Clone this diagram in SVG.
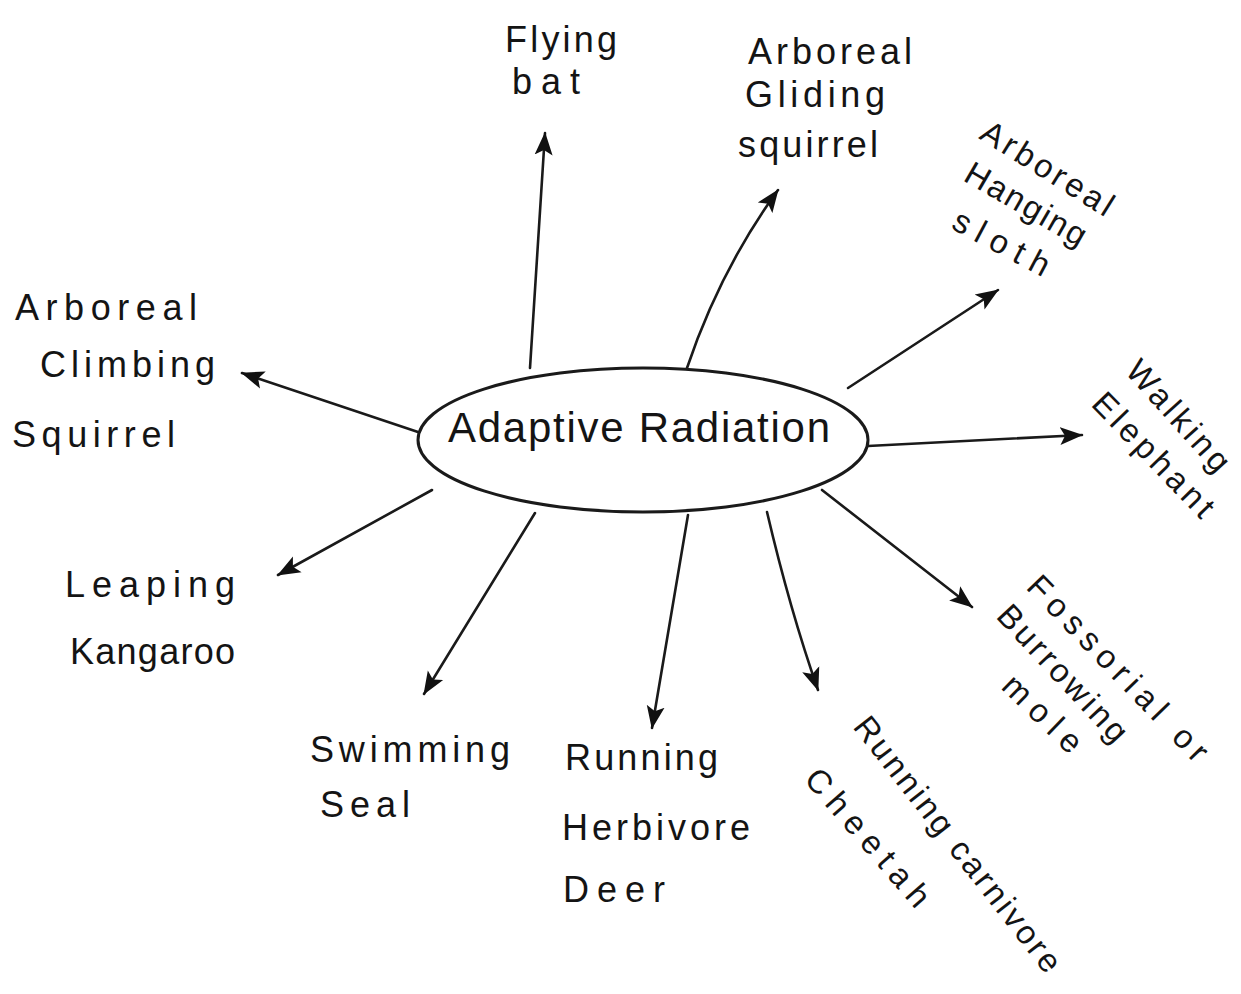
<svg xmlns="http://www.w3.org/2000/svg" width="1241" height="994" viewBox="0 0 1241 994">
  <style>
    .lbl { font-family: "Liberation Sans", "DejaVu Sans", sans-serif; font-size: 36px; fill: #141414; }
    .rot { font-size: 33px; }
    .title { font-family: "Liberation Sans", "DejaVu Sans", sans-serif; font-size: 42px; fill: #141414; }
    .edge { fill: none; stroke: #1a1a1a; stroke-width: 2.6; stroke-linecap: round; marker-end: url(#head); }
  </style>
  <defs>
    <marker id="head" markerUnits="userSpaceOnUse" markerWidth="24" markerHeight="20" viewBox="0 0 24 20" refX="22" refY="10" orient="auto">
      <path d="M0,1 L23,10 L0,19 L5,10 Z" fill="#111"/>
    </marker>
  </defs>
  <rect width="1241" height="994" fill="#ffffff"/>

  <!-- connectors radiating from the centre -->
  <g id="connectors">
    <path class="edge" d="M530,368 L545,133"/>
    <path class="edge" d="M687,368 Q720,270 778,190"/>
    <path class="edge" d="M848,388 L998,290"/>
    <path class="edge" d="M868,446 L1082,435"/>
    <path class="edge" d="M822,490 L972,607"/>
    <path class="edge" d="M767,512 Q790,610 818,690"/>
    <path class="edge" d="M688,515 L652,728"/>
    <path class="edge" d="M535,513 L424,694"/>
    <path class="edge" d="M432,490 L278,575"/>
    <path class="edge" d="M418,432 L242,373"/>
  </g>

  <!-- centre node -->
  <g id="node-center">
    <ellipse cx="643" cy="440" rx="225" ry="72" fill="#ffffff" stroke="#1a1a1a" stroke-width="3"/>
    <text class="title" x="448" y="442" textLength="382" lengthAdjust="spacing">Adaptive Radiation</text>
  </g>

  <g id="node-bat">
    <text class="lbl" x="505" y="52" textLength="112" lengthAdjust="spacing">Flying</text>
    <text class="lbl" x="512" y="94" textLength="68" lengthAdjust="spacing">bat</text>
  </g>

  <g id="node-gliding">
    <text class="lbl" x="748" y="64" textLength="164" lengthAdjust="spacing">Arboreal</text>
    <text class="lbl" x="745" y="107" textLength="140" lengthAdjust="spacing">Gliding</text>
    <text class="lbl" x="738" y="157" textLength="140" lengthAdjust="spacing">squirrel</text>
  </g>

  <g id="node-sloth">
    <text class="lbl rot" x="978" y="138" textLength="150" lengthAdjust="spacing" transform="rotate(32 978 138)">Arboreal</text>
    <text class="lbl rot" x="962" y="180" textLength="135" lengthAdjust="spacing" transform="rotate(30 962 180)">Hanging</text>
    <text class="lbl rot" x="950" y="228" textLength="105" lengthAdjust="spacing" transform="rotate(28 950 228)">sloth</text>
  </g>

  <g id="node-elephant">
    <text class="lbl rot" x="1124" y="372" textLength="138" lengthAdjust="spacing" transform="rotate(48 1124 372)">Walking</text>
    <text class="lbl rot" x="1090" y="405" textLength="160" lengthAdjust="spacing" transform="rotate(46 1090 405)">Elephant</text>
  </g>

  <g id="node-mole">
    <text class="lbl rot" x="1025" y="588" textLength="245" lengthAdjust="spacing" transform="rotate(46 1025 588)">Fossorial or</text>
    <text class="lbl rot" x="995" y="617" textLength="175" lengthAdjust="spacing" transform="rotate(47 995 617)">Burrowing</text>
    <text class="lbl rot" x="1000" y="688" textLength="97" lengthAdjust="spacing" transform="rotate(44 1000 688)">mole</text>
  </g>

  <g id="node-cheetah">
    <text class="lbl rot" x="852" y="727" textLength="315" lengthAdjust="spacing" transform="rotate(52 852 727)">Running carnivore</text>
    <text class="lbl rot" x="803" y="780" textLength="172" lengthAdjust="spacing" transform="rotate(49 803 780)">Cheetah</text>
  </g>

  <g id="node-deer">
    <text class="lbl" x="565" y="770" textLength="153" lengthAdjust="spacing">Running</text>
    <text class="lbl" x="562" y="840" textLength="188" lengthAdjust="spacing">Herbivore</text>
    <text class="lbl" x="563" y="902" textLength="102" lengthAdjust="spacing">Deer</text>
  </g>

  <g id="node-seal">
    <text class="lbl" x="310" y="762" textLength="200" lengthAdjust="spacing">Swimming</text>
    <text class="lbl" x="320" y="817" textLength="90" lengthAdjust="spacing">Seal</text>
  </g>

  <g id="node-kangaroo">
    <text class="lbl" x="65" y="597" textLength="170" lengthAdjust="spacing">Leaping</text>
    <text class="lbl" x="70" y="664" textLength="165" lengthAdjust="spacing">Kangaroo</text>
  </g>

  <g id="node-climbing">
    <text class="lbl" x="15" y="320" textLength="182" lengthAdjust="spacing">Arboreal</text>
    <text class="lbl" x="40" y="377" textLength="175" lengthAdjust="spacing">Climbing</text>
    <text class="lbl" x="12" y="447" textLength="163" lengthAdjust="spacing">Squirrel</text>
  </g>
</svg>
